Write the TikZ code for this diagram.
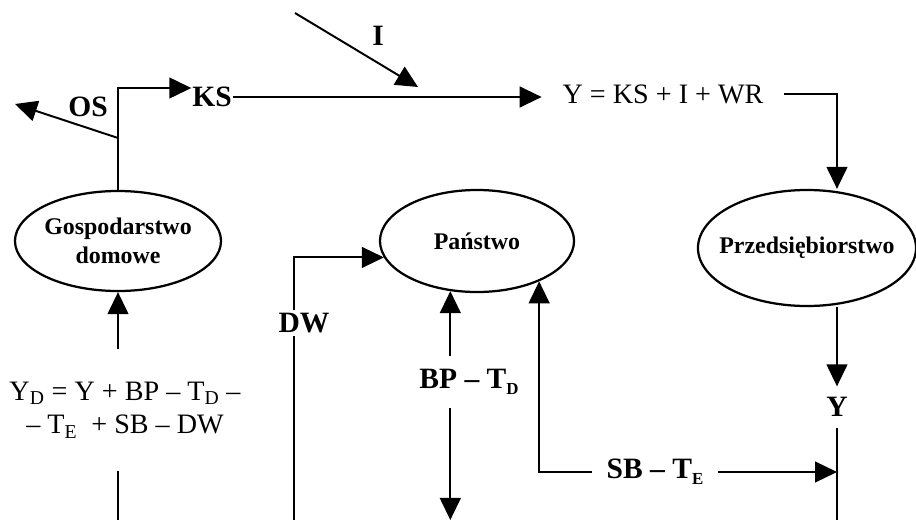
\documentclass[tikz,border=0pt]{standalone}
\usepackage{fontspec}
\setmainfont{Liberation Serif}
\usetikzlibrary{shapes.geometric,arrows.meta}

\begin{document}
\begin{tikzpicture}[x=0.025cm, y=-0.025cm, line width=1.4pt,
    arr/.style={-{Triangle[length=0.55cm, width=0.52cm]}},
    sector/.style={ellipse, draw, line width=1.6pt, inner xsep=-0.3cm, inner ysep=0pt,
        align=center, font=\fontsize{17}{20.5}\selectfont\bfseries},
    flow/.style={font=\fontsize{21}{24}\selectfont\bfseries, inner sep=1pt},
    formula/.style={font=\fontsize{20}{24}\selectfont, align=center}]
    \useasboundingbox (0,0) rectangle (916,520);
    % Define sectors
    \node[sector, minimum width=5.15cm, minimum height=2.5cm] (gosp) at (118,241) {Gospodarstwo\\domowe};
    \node[sector, minimum width=4.85cm, minimum height=2.55cm] (panstwo) at (477,241) {Państwo};
    \node[sector, minimum width=5.45cm, minimum height=2.9cm] (przed) at (807,248) {Przedsiębiorstwo};
    % Define flow labels
    \node[formula, inner xsep=0.5cm] (eq) at (663,94) {Y = KS + I + WR};
    \node[flow, inner xsep=0pt] (ks) at (212,97) {KS};
    \node[flow] (os) at (88,107) {OS};
    \node[flow] (inv) at (378,36) {I};
    \node[formula, minimum height=3cm] (yd) at (125,410)
        {Y\textsubscript{D} = Y + BP – T\textsubscript{D} –\\– T\textsubscript{E} \ + SB – DW};
    \node[flow, minimum height=1.25cm] (bptd) at (469,382)
        {BP – T\raisebox{-0.45ex}{\fontsize{12}{14}\selectfont D}};
    \node[flow, inner xsep=0.35cm] (sbte) at (655,472)
        {SB – T\raisebox{-0.45ex}{\fontsize{12}{14}\selectfont E}};
    \node[flow, inner ysep=0.25cm] (ylab) at (837,407) {Y};
    % Free ends
    \coordinate (bot) at (0,520);
    \coordinate (kscorner) at (118,88);
    \coordinate (osstart) at (118,138);
    \coordinate (osend) at (15,104);
    \coordinate (iin) at (295,13);
    \coordinate (iend) at (418,87);
    \coordinate (dwbot) at (294,520);
    % Draw flows
    \draw[arr] (gosp.north) -- (kscorner) -- (kscorner -| ks.west);
    \draw[arr] (osstart) -- (osend);
    \draw[arr] (iin) -- (iend);
    \draw[arr] (ks.east) -- (ks.east -| eq.west);
    \draw[arr] (eq.east) -| (ylab |- przed.north);
    \draw[arr] (gosp.south |- yd.north) -- (gosp.south);
    \draw (gosp.south |- yd.south) -- (gosp.south |- bot);
    \draw[arr] (dwbot) |- (panstwo.190);
    \node[flow, fill=white, inner sep=2pt] (dw) at (304,323) {DW};
    \draw[arr] (panstwo.242 |- bptd.north) -- (panstwo.242);
    \draw[arr] (panstwo.242 |- bptd.south) -- (panstwo.242 |- bot);
    \draw[arr] (sbte.west) -| (panstwo.-33);
    \draw[arr] (sbte.east) -- (sbte.east -| ylab);
    \draw[arr] (ylab |- przed.south) -- (ylab.north);
    \draw (ylab.south) -- (ylab |- bot);
\end{tikzpicture}
\end{document}
